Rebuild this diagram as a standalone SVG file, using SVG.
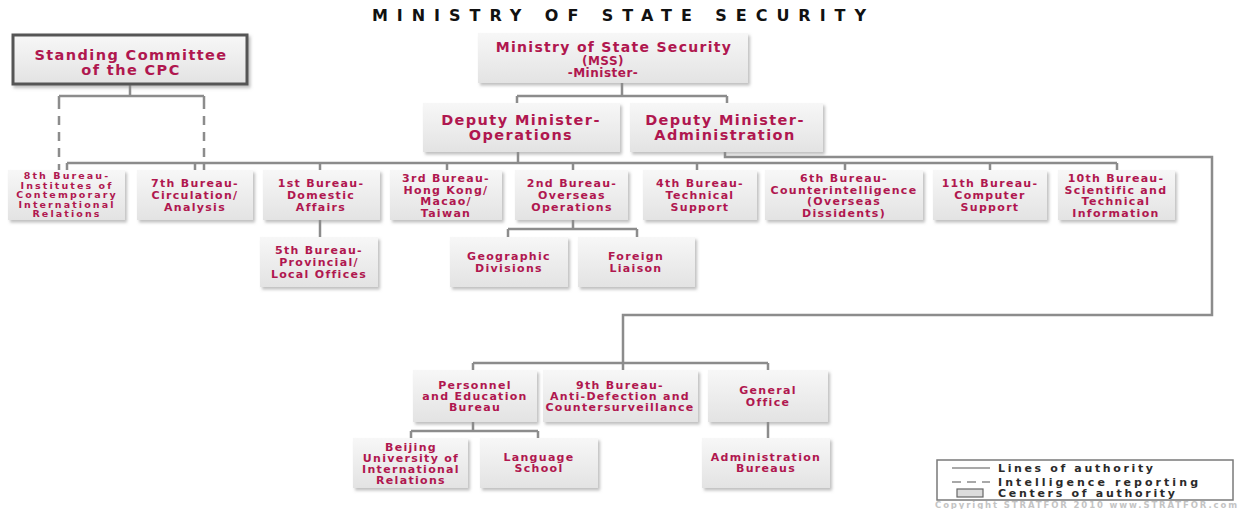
<svg xmlns="http://www.w3.org/2000/svg" width="1239" height="509" viewBox="0 0 1239 509">
<defs>
<linearGradient id="bg" x1="0" y1="0" x2="0" y2="1">
<stop offset="0" stop-color="#f7f7f7"/>
<stop offset="1" stop-color="#e3e3e3"/>
</linearGradient>
<filter id="sh" x="-10%" y="-10%" width="125%" height="135%">
<feDropShadow dx="2" dy="2.5" stdDeviation="1.6" flood-color="#8a8a8a" flood-opacity="0.55"/>
</filter>
<style>
.box{fill:url(#bg);filter:url(#sh);}
.cpc{fill:url(#bg);stroke:#555;stroke-width:3;filter:url(#sh);}
.ln{fill:none;stroke:#8c8c8c;stroke-width:2.5;}
.ds{fill:none;stroke:#8c8c8c;stroke-width:2.5;stroke-dasharray:9 7;}
text{font-family:"DejaVu Sans","Liberation Sans",sans-serif;font-weight:bold;text-anchor:middle;fill:#b0174f;}
.t1{font-size:14.5px;letter-spacing:1.4px;}
.m1{font-size:14px;letter-spacing:1.3px;}
.t2{font-size:12px;letter-spacing:0.5px;}
.t3{font-size:11px;letter-spacing:1.3px;}
.t4{font-size:9.5px;letter-spacing:2.1px;}
.title{font-size:16px;fill:#111;text-anchor:start;}
.lg{font-size:11px;fill:#2a2a2a;text-anchor:start;}
.cp{font-size:8.5px;fill:#c4c4c4;text-anchor:start;}
</style>
</defs>
<rect width="1239" height="509" fill="#ffffff"/>
<text class="title" x="372" y="21" textLength="494" lengthAdjust="spacing">MINISTRY OF STATE SECURITY</text>

<g id="connectors">
<path class="ln" d="M130 84V96M59 96H204M59 96V100M204 96V100"/>
<path class="ds" d="M59 100V170M204 100V170"/>
<path class="ln" d="M622 83V96M517 96H727M517 96V103M727 96V103"/>
<path class="ln" d="M518 152V163M67 163H1117M67 163V170M195 163V170M320 163V170M447 163V170M573 163V170M697 163V170M845 163V170M990 163V170M1117 163V170"/>
<path class="ln" d="M725 152V157H1212V315H623V363M473 363H768M473 363V370M623 363V370M768 363V370"/>
<path class="ln" d="M320 220V237"/>
<path class="ln" d="M573 220V229M508 229H637M508 229V237M637 229V237"/>
<path class="ln" d="M473 422V431M411 431H538M411 431V438M538 431V438"/>
<path class="ln" d="M768 422V438"/>
</g>

<g id="standing-committee">
<rect class="cpc" x="13" y="35" width="234" height="49"/>
<text class="t1" x="131" y="59.5">Standing Committee</text>
<text class="t1" x="131" y="74.5">of the CPC</text>
</g>
<g id="mss">
<rect class="box" x="478" y="33" width="270" height="50"/>
<text class="m1" x="614" y="51.5">Ministry of State Security</text>
<text class="t2" x="603" y="65">(MSS)</text>
<text class="t2" x="603" y="77">-Minister-</text>
</g>
<g id="deputy-operations">
<rect class="box" x="423" y="103" width="197" height="49"/>
<text class="t1" x="521" y="124.5">Deputy Minister-</text>
<text class="t1" x="521" y="139.5">Operations</text>
</g>
<g id="deputy-administration">
<rect class="box" x="630" y="103" width="193" height="49"/>
<text class="t1" x="725" y="124.5">Deputy Minister-</text>
<text class="t1" x="725" y="139.5">Administration</text>
</g>

<g id="bureau8">
<rect class="box" x="8" y="170" width="117" height="50"/>
<text class="t4" x="67" y="179.4">8th Bureau-</text>
<text class="t4" x="67" y="188.9">Institutes of</text>
<text class="t4" x="67" y="198.4">Contemporary</text>
<text class="t4" x="67" y="207.9">International</text>
<text class="t4" x="67" y="217.4">Relations</text>
</g>
<g id="bureau7">
<rect class="box" x="137" y="170" width="116" height="50"/>
<text class="t3" x="195" y="187">7th Bureau-</text>
<text class="t3" x="195" y="199">Circulation/</text>
<text class="t3" x="195" y="211">Analysis</text>
</g>
<g id="bureau1">
<rect class="box" x="263" y="170" width="117" height="50"/>
<text class="t3" x="321" y="187">1st Bureau-</text>
<text class="t3" x="321" y="199">Domestic</text>
<text class="t3" x="321" y="211">Affairs</text>
</g>
<g id="bureau3">
<rect class="box" x="390" y="170" width="112" height="50"/>
<text class="t3" x="446" y="182">3rd Bureau-</text>
<text class="t3" x="446" y="193.5">Hong Kong/</text>
<text class="t3" x="446" y="205">Macao/</text>
<text class="t3" x="446" y="216.5">Taiwan</text>
</g>
<g id="bureau2">
<rect class="box" x="515" y="170" width="113" height="50"/>
<text class="t3" x="572" y="187">2nd Bureau-</text>
<text class="t3" x="572" y="199">Overseas</text>
<text class="t3" x="572" y="211">Operations</text>
</g>
<g id="bureau4">
<rect class="box" x="643" y="170" width="114" height="50"/>
<text class="t3" x="700" y="187">4th Bureau-</text>
<text class="t3" x="700" y="199">Technical</text>
<text class="t3" x="700" y="211">Support</text>
</g>
<g id="bureau6">
<rect class="box" x="765" y="170" width="158" height="50"/>
<text class="t3" x="844" y="182">6th Bureau-</text>
<text class="t3" x="844" y="193.5">Counterintelligence</text>
<text class="t3" x="844" y="205">(Overseas</text>
<text class="t3" x="844" y="216.5">Dissidents)</text>
</g>
<g id="bureau11">
<rect class="box" x="933" y="170" width="114" height="50"/>
<text class="t3" x="990" y="187">11th Bureau-</text>
<text class="t3" x="990" y="199">Computer</text>
<text class="t3" x="990" y="211">Support</text>
</g>
<g id="bureau10">
<rect class="box" x="1058" y="170" width="117" height="50"/>
<text class="t3" x="1116" y="182">10th Bureau-</text>
<text class="t3" x="1116" y="193.5">Scientific and</text>
<text class="t3" x="1116" y="205">Technical</text>
<text class="t3" x="1116" y="216.5">Information</text>
</g>

<g id="bureau5">
<rect class="box" x="260" y="237" width="118" height="50"/>
<text class="t3" x="319" y="254">5th Bureau-</text>
<text class="t3" x="319" y="266">Provincial/</text>
<text class="t3" x="319" y="278">Local Offices</text>
</g>
<g id="geographic-divisions">
<rect class="box" x="450" y="237" width="118" height="50"/>
<text class="t3" x="509" y="260">Geographic</text>
<text class="t3" x="509" y="272">Divisions</text>
</g>
<g id="foreign-liaison">
<rect class="box" x="578" y="237" width="117" height="50"/>
<text class="t3" x="636" y="260">Foreign</text>
<text class="t3" x="636" y="272">Liaison</text>
</g>

<g id="personnel-education">
<rect class="box" x="413" y="370" width="124" height="52"/>
<text class="t3" x="475" y="389">Personnel</text>
<text class="t3" x="475" y="400">and Education</text>
<text class="t3" x="475" y="411">Bureau</text>
</g>
<g id="bureau9">
<rect class="box" x="543" y="370" width="155" height="52"/>
<text class="t3" x="620" y="389">9th Bureau-</text>
<text class="t3" x="620" y="400">Anti-Defection and</text>
<text class="t3" x="620" y="411">Countersurveillance</text>
</g>
<g id="general-office">
<rect class="box" x="708" y="370" width="120" height="52"/>
<text class="t3" x="768" y="394">General</text>
<text class="t3" x="768" y="406">Office</text>
</g>
<g id="beijing-university">
<rect class="box" x="353" y="438" width="115" height="50"/>
<text class="t3" x="411" y="451">Beijing</text>
<text class="t3" x="411" y="462">University of</text>
<text class="t3" x="411" y="473">International</text>
<text class="t3" x="411" y="484">Relations</text>
</g>
<g id="language-school">
<rect class="box" x="480" y="438" width="118" height="50"/>
<text class="t3" x="539" y="461">Language</text>
<text class="t3" x="539" y="472">School</text>
</g>
<g id="administration-bureaus">
<rect class="box" x="702" y="438" width="128" height="50"/>
<text class="t3" x="766" y="461">Administration</text>
<text class="t3" x="766" y="472">Bureaus</text>
</g>

<g id="legend">
<rect x="937" y="460" width="296" height="40" fill="#ffffff" stroke="#7a7a7a" stroke-width="1.5"/>
<line x1="952" y1="468" x2="990" y2="468" stroke="#8c8c8c" stroke-width="1.5"/>
<line x1="952" y1="482" x2="990" y2="482" stroke="#8c8c8c" stroke-width="1.5" stroke-dasharray="9 6"/>
<rect x="957" y="489" width="26" height="8" fill="#dcdcdc" stroke="#666" stroke-width="1.2"/>
<text class="lg" x="998" y="472" textLength="155" lengthAdjust="spacing">Lines of authority</text>
<text class="lg" x="998" y="486" textLength="200" lengthAdjust="spacing">Intelligence reporting</text>
<text class="lg" x="998" y="497" textLength="177" lengthAdjust="spacing">Centers of authority</text>
<text class="cp" x="935" y="508" textLength="302" lengthAdjust="spacing">Copyright STRATFOR 2010    www.STRATFOR.com</text>
</g>
</svg>
